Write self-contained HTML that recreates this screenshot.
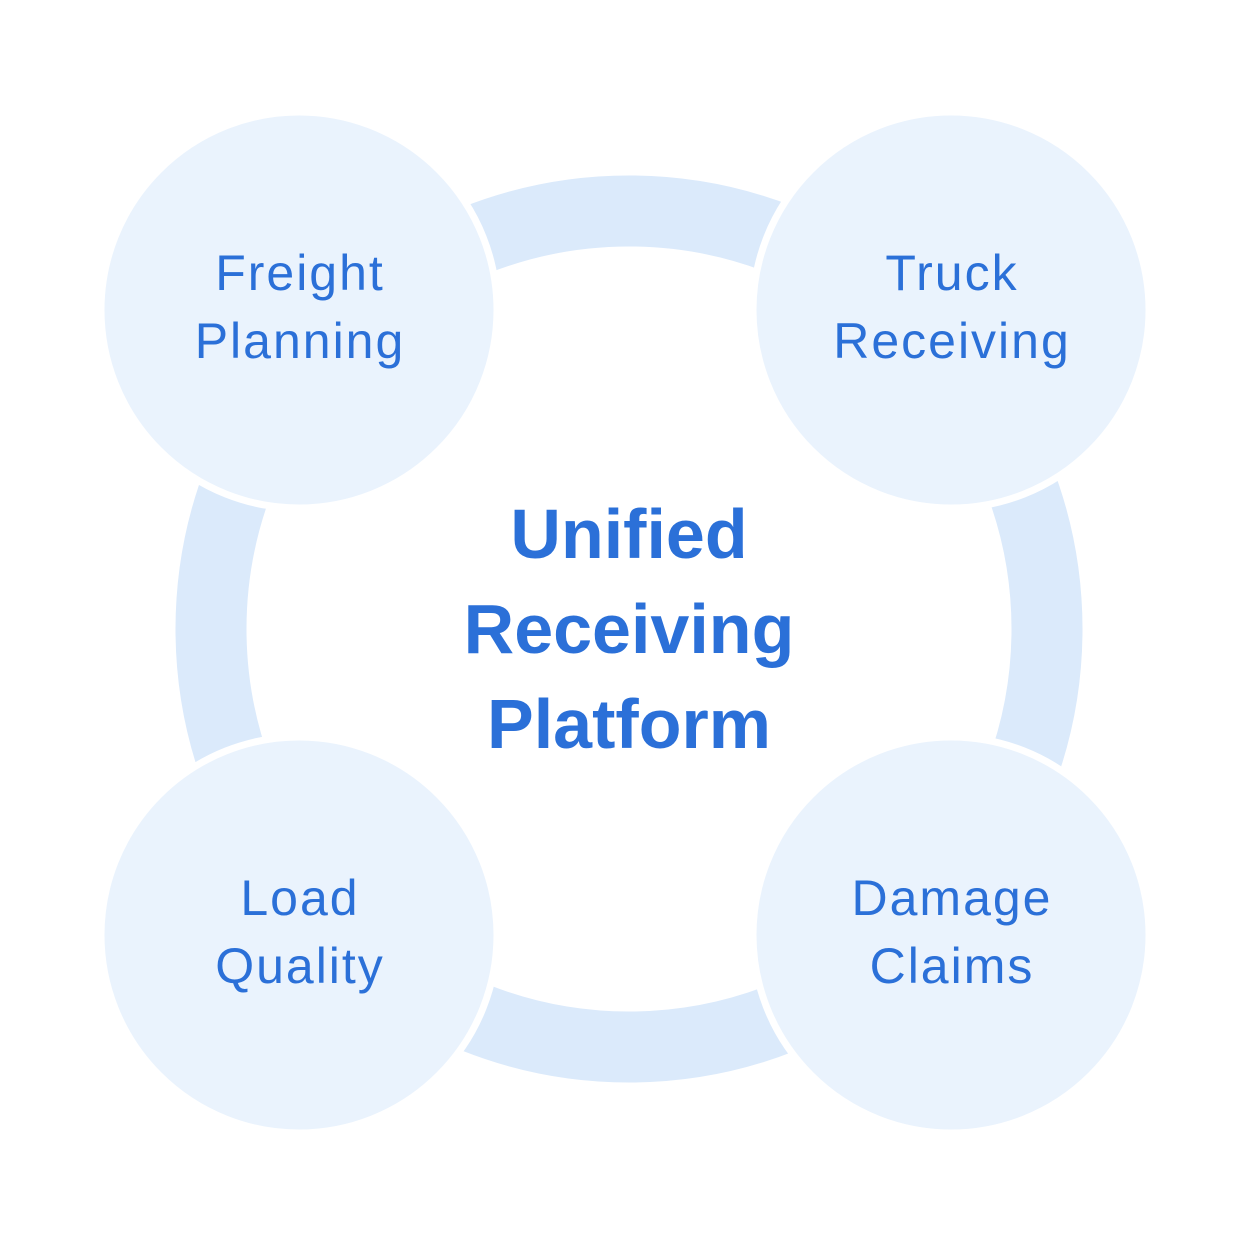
<!DOCTYPE html>
<html><head><meta charset="utf-8"><style>
html,body{margin:0;padding:0;background:#fff}
svg{display:block}
text{font-family:"Liberation Sans","DejaVu Sans",sans-serif;fill:#2b70d8;text-anchor:middle}
</style></head><body>
<svg width="1258" height="1258" viewBox="0 0 1258 1258" xmlns="http://www.w3.org/2000/svg">
<rect width="1258" height="1258" fill="#fff"/>
<circle cx="629" cy="629" r="418" fill="none" stroke="#dbeafb" stroke-width="71"/>
<g fill="#eaf3fd" stroke="#fff" stroke-width="7">
<circle cx="299" cy="310" r="198"/>
<circle cx="951" cy="310" r="198"/>
<circle cx="299" cy="935" r="198"/>
<circle cx="951" cy="935" r="198"/>
</g>
<g font-size="50" letter-spacing="2">
<text x="300" y="290">Freight</text>
<text x="300" y="358">Planning</text>
<text x="952" y="290">Truck</text>
<text x="952" y="358">Receiving</text>
<text x="300" y="915">Load</text>
<text x="300" y="983">Quality</text>
<text x="952" y="915">Damage</text>
<text x="952" y="983">Claims</text>
</g>
<g font-size="70" font-weight="bold">
<text x="629" y="558">Unified</text>
<text x="629" y="653">Receiving</text>
<text x="629" y="748">Platform</text>
</g>
</svg>
</body></html>
